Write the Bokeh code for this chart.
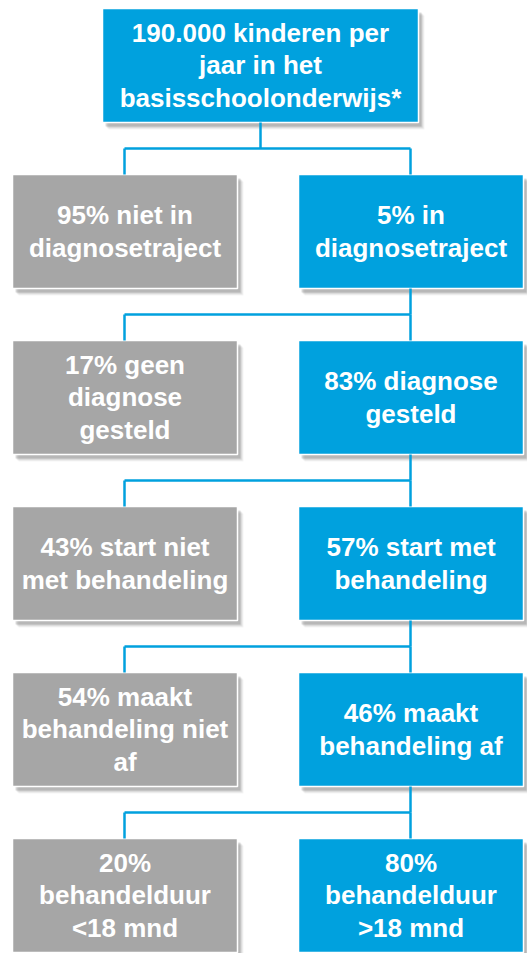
from bokeh.plotting import figure
from bokeh.models import ColumnDataSource, Range1d
from bokeh.core.properties import value
from bokeh.embed import file_html
from bokeh.resources import INLINE

# ---- data ----
top_label = "190.000 kinderen per\njaar in het\nbasisschoolonderwijs*"
no_pct = [95, 17, 43, 54, 20]
yes_pct = [5, 83, 57, 46, 80]
no_text = ["niet in\ndiagnosetraject", "geen\ndiagnose\ngesteld", "start niet\nmet behandeling",
           "maakt\nbehandeling niet\naf", "\nbehandelduur\n<18 mnd"]
yes_text = ["in\ndiagnosetraject", "diagnose\ngesteld", "start met\nbehandeling",
            "maakt\nbehandeling af", "\nbehandelduur\n>18 mnd"]

no_labels = [f"{p}% {t}" if not t.startswith("\n") else f"{p}%{t}" for p, t in zip(no_pct, no_text)]
yes_labels = [f"{p}% {t}" if not t.startswith("\n") else f"{p}%{t}" for p, t in zip(yes_pct, yes_text)]

BLUE = "#00A1DE"
GRAY = "#A6A6A6"

# ---- layout ----
W, H = 527, 953
p = figure(width=W, height=H, output_backend="svg", toolbar_location=None,
           x_range=Range1d(0, W), y_range=Range1d(H, 0),
           min_border=0, outline_line_color=None, background_fill_color="white")
p.axis.visible = False
p.grid.visible = False

row_step = 166
box_h = 114
row_tops = [8 + row_step * (i + 1) for i in range(len(no_labels))]
lx0, lx1 = 12, 237
rx0, rx1 = 298, 523
tx0, tx1 = 102, 418
lcx, rcx = 124, 410

# boxes
left = [tx0] + [lx0] * len(no_labels) + [rx0] * len(yes_labels)
right = [tx1] + [lx1] * len(no_labels) + [rx1] * len(yes_labels)
top = [8] + row_tops + row_tops
bottom = [t + box_h for t in top]
colors = [BLUE] + [GRAY] * len(no_labels) + [BLUE] * len(yes_labels)
labels = [top_label] + no_labels + yes_labels
cx = [(a + b) / 2 for a, b in zip(left, right)]
cy = [(a + b) / 2 for a, b in zip(top, bottom)]

src = ColumnDataSource(dict(left=left, right=right, top=top, bottom=bottom,
                            color=colors, label=labels, cx=cx, cy=cy))

# shadows (stacked soft offsets)
for dx, dy, a in [(6, 7, 0.06), (5, 6, 0.08), (4, 5, 0.12), (3, 4, 0.18)]:
    p.quad(left=[l + dx for l in left], right=[r + dx for r in right],
           top=[t + dy for t in top], bottom=[b + dy for b in bottom],
           fill_color="#404040", fill_alpha=a, line_color=None)

p.quad(left="left", right="right", top="top", bottom="bottom", source=src,
       fill_color="color", line_color="white", line_width=1.5)

# connectors
xs, ys = [], []
parents_bottom = [8 + box_h] + [t + box_h for t in row_tops[:-1]]
parents_x = [260] + [rcx] * (len(row_tops) - 1)
for pb, px, ct in zip(parents_bottom, parents_x, row_tops):
    mid = (pb + ct) / 2
    xs.append([px, px]); ys.append([pb, mid])
    xs.append([lcx, rcx]); ys.append([mid, mid])
    xs.append([lcx, lcx]); ys.append([mid, ct])
    xs.append([rcx, rcx]); ys.append([mid, ct])
p.multi_line(xs=xs, ys=ys, line_color=BLUE, line_width=2.5)

p.text(x="cx", y="cy", text="label", source=src, text_color="white",
       text_font=value("Liberation Sans"), text_font_style="bold",
       text_font_size="26px", text_align="center", text_baseline="middle",
       text_line_height=1.09)

open("out.html", "w").write(file_html(p, INLINE))
